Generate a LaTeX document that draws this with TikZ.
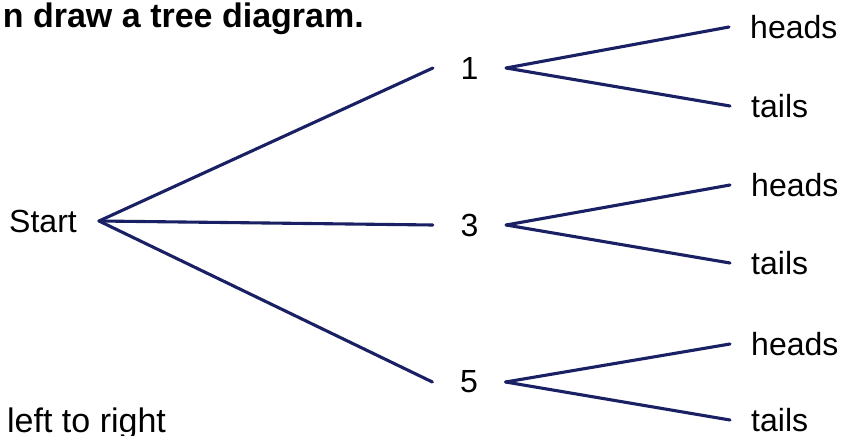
\documentclass[tikz,border=0pt]{standalone}
\usepackage{fontspec}
\setmainfont{Liberation Sans}
\definecolor{navy}{RGB}{26,32,100}
\begin{document}
\begin{tikzpicture}[x=1pt,y=-1pt,
  branch/.style={draw=navy,line width=3.1pt,line cap=round},
  lbl/.style={font=\fontsize{32}{38}\selectfont,inner ysep=0pt},
  mid/.style={lbl,inner xsep=27.5pt},
  leaf/.style={lbl,anchor=west,inner xsep=21pt}]
\useasboundingbox (0,0) rectangle (843,436);
\fill[white] (0,0) rectangle (843,436);
% texts outside the tree
\node[font=\fontsize{34}{41}\selectfont\bfseries,anchor=base east,inner sep=0pt] (title) at (364,28) {n draw a tree diagram.};
\node[font=\fontsize{34}{40}\selectfont,anchor=base west,inner sep=0pt] (note) at (7,432) {left to right};
% tree nodes
\node[lbl,anchor=east,inner xsep=22pt] (start) at (99,221) {Start};
\node[mid] (n1) at (469.5,68) {1};
\node[mid] (n3) at (469.5,225) {3};
\node[mid] (n5) at (469,382) {5};
\node[leaf] (h1) at (729,27) {heads};
\node[leaf] (t1) at (730,106) {tails};
\node[leaf] (h3) at (730,185) {heads};
\node[leaf] (t3) at (730,263) {tails};
\node[leaf] (h5) at (730,344) {heads};
\node[leaf] (t5) at (730,420) {tails};
% connectors
\draw[branch] (start.east) -- (n1.west);
\draw[branch] (start.east) -- (n3.west);
\draw[branch] (start.east) -- (n5.west);
\draw[branch] (n1.east) -- (h1.west);
\draw[branch] (n1.east) -- (t1.west);
\draw[branch] (n3.east) -- (h3.west);
\draw[branch] (n3.east) -- (t3.west);
\draw[branch] (n5.east) -- (h5.west);
\draw[branch] (n5.east) -- (t5.west);
\end{tikzpicture}
\end{document}
